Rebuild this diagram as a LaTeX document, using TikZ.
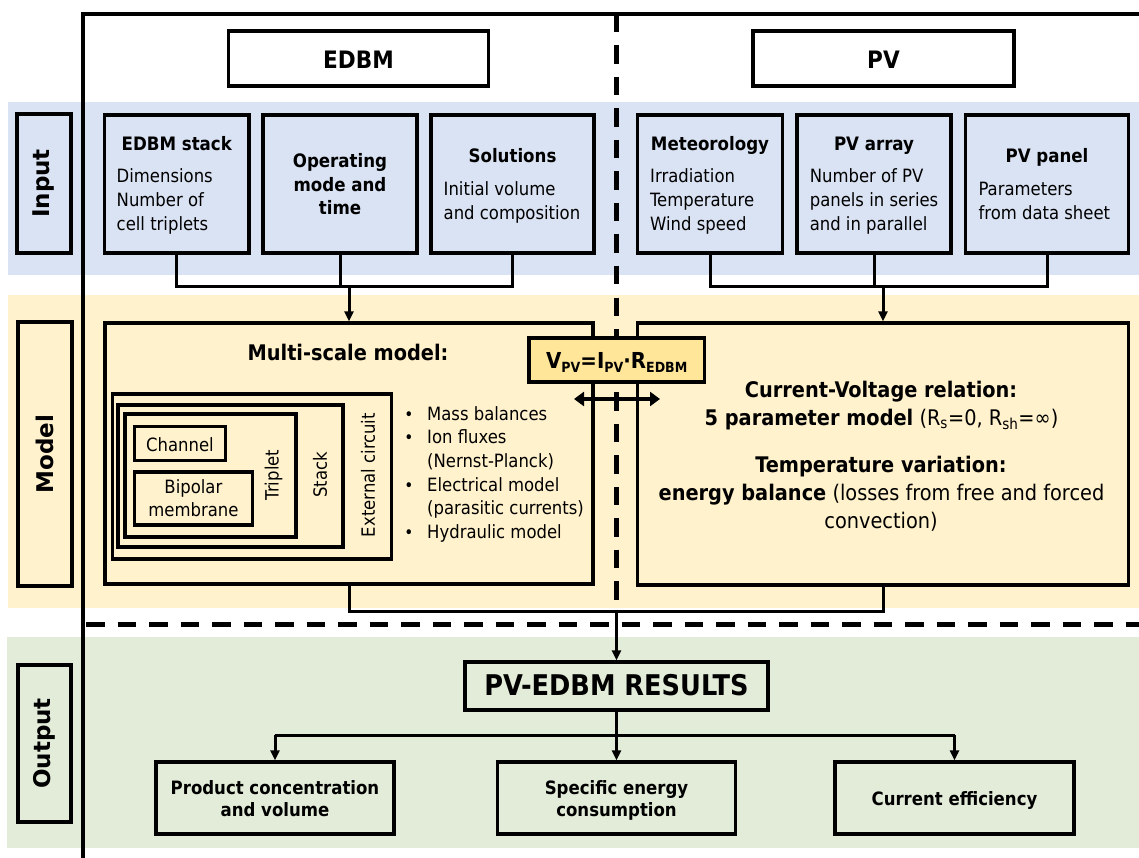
\documentclass[tikz,border=0pt]{standalone}
\usepackage{fontspec}
\setmainfont{DejaVu Sans Condensed}
\newfontfamily\widefont{DejaVu Sans}
\usetikzlibrary{arrows.meta}
\definecolor{inblue}{RGB}{218,227,243}
\definecolor{mdyel}{RGB}{255,242,204}
\definecolor{outgrn}{RGB}{226,236,216}
\definecolor{vpvyel}{RGB}{255,230,153}
\newcommand\subx[1]{\raisebox{-4pt}{\fontsize{14}{14}\selectfont #1}}
\tikzset{
  bx/.style={draw, line width=3.2pt, inner sep=0pt},
  conn/.style={line width=3pt},
  arr/.style={line width=3pt, -{Triangle[length=10pt,width=9pt]}},
  reg/.style={font=\fontsize{18.3}{22}\selectfont, inner sep=0pt},
  bld/.style={font=\fontsize{18.5}{22}\selectfont\bfseries, inner sep=0pt},
  sec/.style={font=\fontsize{21.5}{26}\selectfont, inner sep=0pt},
  hdr/.style={font=\fontsize{24}{28}\selectfont\bfseries, inner sep=0pt},
  lbl/.style={bx, rotate=90, font=\widefont\fontsize{23}{26}\selectfont\bfseries},
  dashline/.style={line width=4.5pt, dash pattern=on 18.5pt off 13pt},
}
\begin{document}
\begin{tikzpicture}[x=1pt,y=-1pt]
\useasboundingbox (0,0) rectangle (1139,858);
\fill[white] (0,0) rectangle (1139,858);
% bands
\fill[inblue] (8,102) rectangle (1139,275);
\fill[mdyel] (8,295) rectangle (1139,608);
\fill[outgrn] (7,637) rectangle (1139,848);
% frame
\coordinate (fBot) at (83,858);
\coordinate (fTL) at (83,14);
\coordinate (fTR) at (1139,14);
\draw[line width=3.5pt, line join=miter] (fBot) -- (fTL) -- (fTR);
% dashed separators
\coordinate (dTop) at (616.5,14);
\coordinate (jB) at (616.5,611.5);
\draw[dashline] (dTop) -- (jB);
\coordinate (hL) at (83,624);
\coordinate (hR) at (1139,624);
\draw[dashline, line width=5pt, dash phase=-3pt] (hL) -- (hR);

% side labels
\node[lbl, fill=inblue, minimum width=139pt, minimum height=54pt] (inLbl) at (44,183.5) {Input};
\node[lbl, fill=mdyel, minimum width=264pt, minimum height=54pt] (mdLbl) at (45,454) {Model};
\node[lbl, fill=outgrn, minimum width=157pt, minimum height=53pt] (outLbl) at (44.5,743.5) {Output};

% headers
\node[bx, fill=white, minimum width=260pt, minimum height=55pt] (edbmH) at (358.5,58.5) {};
\node[hdr, anchor=base] (edbmHT) at (358.5,69) {EDBM};
\node[bx, fill=white, minimum width=261pt, minimum height=55pt] (pvH) at (883.5,58.5) {};
\node[hdr, anchor=base] (pvHT) at (883.5,68.5) {PV};

% input boxes
\node[bx, fill=inblue, minimum width=144.5pt, minimum height=138pt] (stackIn) at (176.75,184) {};
\node[bx, fill=inblue, minimum width=154pt, minimum height=138pt] (opIn) at (340,184) {};
\node[bx, fill=inblue, minimum width=163pt, minimum height=138pt] (solIn) at (512.5,184) {};
\node[bx, fill=inblue, minimum width=145pt, minimum height=138pt] (metIn) at (710,184) {};
\node[bx, fill=inblue, minimum width=154pt, minimum height=138pt] (arrIn) at (874,184) {};
\node[bx, fill=inblue, minimum width=163pt, minimum height=138pt] (panIn) at (1047,184) {};

\node[bld, anchor=base] (stackT) at (176.75,150.5) {EDBM stack};
\foreach \t [count=\i] in {Dimensions,Number of,cell triplets}
  \node[reg, anchor=base west] (stackL\i) at (116.5,{183+24*(\i-1)}) {\t};
\foreach \t [count=\i] in {Operating,mode and,time}
  \node[bld, anchor=base] (opL\i) at (340,{167.3+23.8*(\i-1)}) {\t};
\node[bld, anchor=base] (solT) at (512.5,162.3) {Solutions};
\foreach \t [count=\i] in {Initial volume,and composition}
  \node[reg, anchor=base west] (solL\i) at (443.5,{195.7+24*(\i-1)}) {\t};
\node[bld, anchor=base] (metT) at (710,150.5) {Meteorology};
\foreach \t [count=\i] in {Irradiation,Temperature,Wind speed}
  \node[reg, anchor=base west] (metL\i) at (650,{183+24*(\i-1)}) {\t};
\node[bld, anchor=base] (arrT) at (874,150.5) {PV array};
\foreach \t [count=\i] in {Number of PV,panels in series,and in parallel}
  \node[reg, anchor=base west] (arrL\i) at (809.6,{183+24*(\i-1)}) {\t};
\node[bld, anchor=base] (panT) at (1047,162.3) {PV panel};
\foreach \t [count=\i] in {Parameters,from data sheet}
  \node[reg, anchor=base west] (panL\i) at (978.4,{195.7+24*(\i-1)}) {\t};

% model boxes
\node[bx, fill=mdyel, minimum width=488pt, minimum height=261pt] (multi) at (349,453.5) {};
\node[bx, fill=mdyel, minimum width=490.5pt, minimum height=262pt] (pvModel) at (883,454) {};
\node[sec, font=\fontsize{21.5}{26}\selectfont\bfseries, anchor=base] (multiT) at (348,360) {Multi-scale model:};

\node[bx, minimum width=279pt, minimum height=165pt] (extC) at (252,476.5) {};
\node[bx, minimum width=225pt, minimum height=142pt] (stackB) at (230.4,476) {};
\node[bx, minimum width=171pt, minimum height=123pt] (tripB) at (210.5,475.5) {};
\node[bx, minimum width=91pt, minimum height=34pt] (chanB) at (180,443.7) {};
\node[bx, minimum width=118pt, minimum height=53pt] (bipB) at (193.4,498.4) {};
\node[reg, anchor=base] (chanT) at (180,451.5) {Channel};
\node[reg, anchor=base] (bipT1) at (193.4,493) {Bipolar};
\node[reg, anchor=base] (bipT2) at (193.4,516.5) {membrane};
\node[reg, rotate=90] (tripT) at (273.6,475) {Triplet};
\node[reg, rotate=90] (stackT2) at (320,475) {Stack};
\node[reg, rotate=90] (extT) at (368,475) {External circuit};

\foreach \t/\b [count=\i] in {Mass balances/1,Ion fluxes/1,(Nernst-Planck)/0,Electrical model/1,(parasitic currents)/0,Hydraulic model/1}{
  \node[reg, anchor=base west] (bulL\i) at (427,{420+23.7*(\i-1)}) {\t};
  \ifnum\b=1 \node[reg, anchor=base] (bulD\i) at (409,{420+23.7*(\i-1)}) {\fontsize{17}{17}\selectfont•}; \fi
}

\node[sec, anchor=base] (cvT1) at (881,397) {\bfseries Current-Voltage relation:};
\node[sec, anchor=base] (cvT2) at (881.5,425) {\bfseries 5 parameter model\mdseries{} (R\textsubscript{s}=0, R\textsubscript{sh}=∞)};
\node[sec, anchor=base] (cvT3) at (881,472) {\bfseries Temperature variation:};
\node[sec, anchor=base] (cvT4) at (881.5,500) {\bfseries energy balance\mdseries{} (losses from free and forced};
\node[sec, anchor=base] (cvT5) at (881,528) {convection)};

% input connectors
\coordinate (jL) at (348,287);
\coordinate (jR) at (883,287);
\draw[conn] (stackIn.south) |- (solIn.south |- jL) -- (solIn.south);
\draw[conn] (opIn.south) -- (opIn.south |- jL);
\draw[arr] (multi.north |- jL) -- (multi.north);
\draw[conn] (metIn.south) |- (panIn.south |- jR) -- (panIn.south);
\draw[conn] (arrIn.south) -- (arrIn.south |- jR);
\draw[arr] (pvModel.north |- jR) -- (pvModel.north);

% coupling
\node[bx, fill=vpvyel, minimum width=175.5pt, minimum height=44pt] (vpv) at (616.75,360) {};
\node[anchor=base, inner sep=0pt, font=\fontsize{22}{26}\selectfont\bfseries] (vpvT) at (616.75,368) {V\subx{PV}=I\subx{PV}·R\subx{EDBM}};
\coordinate (dL) at (574,399);
\coordinate (dR) at (660,399);
\draw[line width=4pt, {Triangle[length=10pt,width=14pt]}-{Triangle[length=10pt,width=14pt]}] (dL) -- (dR);

% model to results
\draw[conn] (multi.south) |- (pvModel.south |- jB) -- (pvModel.south);
\node[bx, fill=outgrn, minimum width=303pt, minimum height=48pt] (results) at (616.5,686) {};
\node[anchor=base, inner sep=0pt, font=\fontsize{28.5}{32}\selectfont\bfseries] (resT) at (616.5,695) {PV-EDBM RESULTS};
\draw[arr] (jB) -- (results.north);

% outputs
\node[bx, fill=outgrn, minimum width=238pt, minimum height=72pt] (prodB) at (275,798) {};
\node[bx, fill=outgrn, minimum width=238.5pt, minimum height=72pt] (specB) at (616.5,798) {};
\node[bx, fill=outgrn, minimum width=239pt, minimum height=72pt] (curB) at (954.5,798) {};
\node[bld, font=\fontsize{18.4}{22}\selectfont\bfseries, anchor=base] (prodT1) at (275,794.3) {Product concentration};
\node[bld, font=\fontsize{18.4}{22}\selectfont\bfseries, anchor=base] (prodT2) at (275,816) {and volume};
\node[bld, font=\fontsize{18.4}{22}\selectfont\bfseries, anchor=base] (specT1) at (616.5,794.3) {Specific energy};
\node[bld, font=\fontsize{18.4}{22}\selectfont\bfseries, anchor=base] (specT2) at (616.5,816) {consumption};
\node[bld, font=\fontsize{18.4}{22}\selectfont\bfseries, anchor=base] (curT) at (954.5,805) {Current efficiency};
\coordinate (jO) at (616.5,735);
\draw[arr] (results.south) -- (specB.north);
\draw[conn] (prodB.north |- jO) -- (curB.north |- jO);
\draw[arr] (prodB.north |- jO) -- (prodB.north);
\draw[arr] (curB.north |- jO) -- (curB.north);
\end{tikzpicture}
\end{document}
